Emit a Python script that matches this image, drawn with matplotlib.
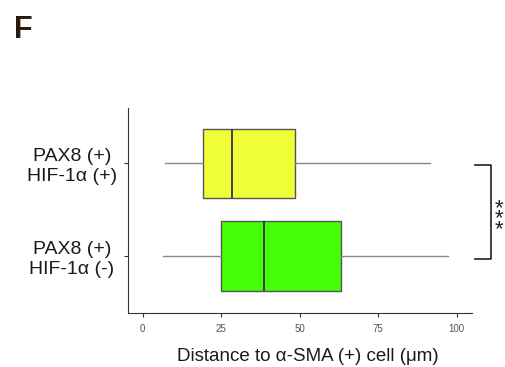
import matplotlib
matplotlib.use("Agg")
import matplotlib.pyplot as plt
from matplotlib.transforms import blended_transform_factory

plt.rcParams['font.family'] = ['Liberation Sans', 'DejaVu Sans']

categories = ["PAX8 (+)\nHIF-1\u03b1 (-)", "PAX8 (+)\nHIF-1\u03b1 (+)"]
whislo = [6.6, 7.1]
q1 = [24.8, 19.3]
median = [38.6, 28.4]
q3 = [63.1, 48.5]
whishi = [97.3, 91.5]
colors = ["#42ff08", "#f0ff38"]
xticks = [0, 25, 50, 75, 100]

fig = plt.figure(figsize=(5.06, 3.67), dpi=100)
ax = fig.add_axes([0.252, 0.148, 0.680, 0.558])

stats = []
for i in range(len(categories)):
    stats.append(dict(whislo=whislo[i], q1=q1[i], med=median[i], q3=q3[i],
                      whishi=whishi[i], fliers=[]))

bp = ax.bxp(stats, positions=[1, 2], widths=0.75, vert=False, patch_artist=True,
            showcaps=False,
            boxprops=dict(edgecolor="#555555", linewidth=1.0),
            medianprops=dict(color="#333344", linewidth=1.3),
            whiskerprops=dict(color="#888888", linewidth=1.0))
for patch, c in zip(bp['boxes'], colors):
    patch.set_facecolor(c)

ax.set_xlim(-4.85, 104.8)
ax.set_ylim(0.39, 2.6)
ax.set_xticks(xticks)
ax.set_xticklabels([str(t) for t in xticks], fontsize=7, color="#555555")
ax.set_yticks([1, 2])
ax.set_yticklabels(categories, fontsize=14, color="#1a1a1a")
for lbl in ax.get_yticklabels():
    lbl.set_multialignment('center')
    lbl.set_horizontalalignment('center')
    lbl.set_x(-0.15)
    lbl.set_linespacing(1.2)
ax.tick_params(axis='y', length=3, color="#333333", pad=0)
ax.tick_params(axis='x', length=3, color="#333333", pad=5)
ax.spines['top'].set_visible(False)
ax.spines['right'].set_visible(False)
ax.spines['left'].set_color("#333333")
ax.spines['bottom'].set_color("#333333")
ax.set_xlabel("Distance to \u03b1-SMA (+) cell (\u03bcm)", fontsize=13.5, color="#1a1a1a", labelpad=10)
ax.xaxis.label.set_x(0.523)

trans = blended_transform_factory(ax.transAxes, ax.transData)
ax.plot([1.0096, 1.056, 1.056, 1.0096], [1.98, 1.98, 0.964, 0.964],
        color="#222222", linewidth=1.2, transform=trans, clip_on=False)
ax.text(1.081, 1.40, "*\n*\n*", transform=trans, ha='center', va='center',
        fontsize=16, linespacing=0.36, color="#222222")

fig.text(0.028, 0.896, "F", fontsize=22, fontweight='bold', color="#2a1a10",
         ha='left', va='baseline')

fig.savefig("out.png", dpi=100)
